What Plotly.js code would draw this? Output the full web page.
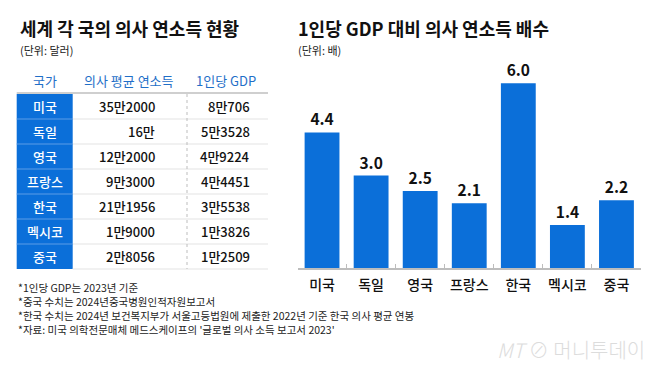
<!DOCTYPE html>
<html><head><meta charset="utf-8">
<script src="https://cdn.plot.ly/plotly-3.0.1.min.js"></script>
<style>html,body{margin:0;padding:0;background:#fff}</style>
</head><body><div id="chart" style="width:658px;height:371px"></div>
<script>
// ---- data ----
const countries = ['미국','독일','영국','프랑스','한국','멕시코','중국'];
const doctorIncome = ['35만2000','16만','12만2000','9만3000','21만1956','1만9000','2만8056'];
const gdpPerCapita = ['8만706','5만3528','4만9224','4만4451','3만5538','1만3826','1만2509'];
const tableHeaders = ['국가','의사 평균 연소득','1인당 GDP'];
const multiples = [4.4, 3.0, 2.5, 2.1, 6.0, 1.4, 2.2];
const leftTitle = '세계 각 국의 의사 연소득 현황';
const leftUnit = '(단위: 달러)';
const rightTitle = '1인당 GDP 대비 의사 연소득 배수';
const rightUnit = '(단위: 배)';
const footnotes = [
  '*1인당 GDP는 2023년 기준',
  '*중국 수치는 2024년중국병원인적자원보고서',
  '*한국 수치는 2024년 보건복지부가 서울고등법원에 제출한 2022년 기준 한국 의사 평균 연봉',
  "*자료: 미국 의학전문매체 메드스케이프의 '글로벌 의사 소득 보고서 2023'"
];
const watermark = '<i>MT</i> ⊘ 머니투데이';

// ---- layout helpers ----
const W = 658, H = 371;
const px = x => x / W;
const py = y => 1 - y / H;
const FONT = '"Noto Sans CJK KR", "Noto Sans", sans-serif';
const BLUE = '#0b6fd9';

const shapes = [];
const annotations = [];

function txt(x, y, text, opts) {
  annotations.push(Object.assign({
    xref: 'paper', yref: 'paper', x: px(x), y: py(y), text: text,
    showarrow: false, xanchor: 'left', yanchor: 'middle',
    font: {family: FONT, size: 12, color: '#111'}
  }, opts || {}));
}

// titles
txt(18, 28, '<b>' + leftTitle + '</b>', {font: {family: FONT, size: 18, color: '#111'}});
txt(18, 50, leftUnit, {font: {family: FONT, size: 11, color: '#222'}});
txt(296, 28, '<b>' + rightTitle + '</b>', {font: {family: FONT, size: 18, color: '#111'}});
txt(296, 50, rightUnit, {font: {family: FONT, size: 11, color: '#222'}});

// table
const tLeft = 16.7, c1Right = 72.7, cDiv = 187, tRight = 268;
const rowTop = 94, rowH = 25;
const headerY = 80;
const headerX = [44.7, 129, 226];
tableHeaders.forEach((h, i) => txt(headerX[i], headerY, h,
  {xanchor: 'center', font: {family: FONT, size: 13, color: '#1f6fc8'}}));
shapes.push({type: 'line', xref: 'paper', yref: 'paper',
  x0: px(tLeft), x1: px(tRight), y0: py(rowTop - 1), y1: py(rowTop - 1),
  line: {color: '#cfcfcf', width: 2}});
countries.forEach((c, i) => {
  const y0 = rowTop + rowH * i, y1 = y0 + rowH, yc = y0 + rowH / 2;
  shapes.push({type: 'rect', xref: 'paper', yref: 'paper',
    x0: px(tLeft), x1: px(c1Right), y0: py(y0), y1: py(y1),
    fillcolor: BLUE, line: {width: 0}});
  if (i > 0) {
    shapes.push({type: 'line', xref: 'paper', yref: 'paper',
      x0: px(tLeft), x1: px(c1Right), y0: py(y0), y1: py(y0),
      line: {color: '#5d9de6', width: 1}});
  }
  shapes.push({type: 'line', xref: 'paper', yref: 'paper',
    x0: px(c1Right), x1: px(tRight), y0: py(y1), y1: py(y1),
    line: {color: '#e3e3e3', width: 1}});
  txt(44.7, yc, c, {xanchor: 'center', font: {family: FONT, size: 13, color: '#fff', weight: 500}});
  txt(157, yc, doctorIncome[i], {xanchor: 'right', font: {family: FONT, size: 13, color: '#111', weight: 500}});
  txt(252, yc, gdpPerCapita[i], {xanchor: 'right', font: {family: FONT, size: 13, color: '#111', weight: 500}});
});
shapes.push({type: 'line', xref: 'paper', yref: 'paper',
  x0: px(cDiv), x1: px(cDiv), y0: py(rowTop), y1: py(rowTop + rowH * countries.length),
  line: {color: '#bdbdbd', width: 1, dash: 'dot'}});

// footnotes
footnotes.forEach((f, i) => txt(16, 287 + 14 * i, f,
  {font: {family: FONT, size: 10.5, color: '#222'}}));

// watermark
txt(647, 349, watermark, {xanchor: 'right', font: {family: FONT, size: 20, color: '#dcdcdc', weight: 300}});

// bar chart geometry
const baseY = 268, pxPerUnit = 30.8, yMax = 7;
const trace = {
  type: 'bar', x: countries, y: multiples,
  marker: {color: BLUE},
  text: multiples.map(v => '<b>' + v.toFixed(1) + '</b>'),
  textposition: 'outside', cliponaxis: false,
  textfont: {family: FONT, size: 15.5, color: '#111'},
  hoverinfo: 'none', width: 0.71
};

const layout = {
  width: W, height: H, autosize: false,
  margin: {l: 0, r: 0, t: 0, b: 0, pad: 0},
  paper_bgcolor: '#fff', plot_bgcolor: '#fff',
  showlegend: false,
  xaxis: {
    domain: [px(297.5), px(641)], range: [-0.5, 6.5], type: 'category',
    showline: true, linecolor: '#bdbdbd', linewidth: 1.5,
    ticks: 'inside', tickson: 'boundaries', ticklen: 4, tickcolor: '#bdbdbd',
    showgrid: false, zeroline: false, ticklabelstandoff: 4,
    tickfont: {family: FONT, size: 14, color: '#111', weight: 500}
  },
  yaxis: {
    domain: [py(baseY), py(baseY - pxPerUnit * yMax)], range: [0, yMax],
    visible: false, showgrid: false, zeroline: false
  },
  shapes: shapes, annotations: annotations
};

Plotly.newPlot('chart', [trace], layout, {displayModeBar: false, staticPlot: true});
</script></body></html>
